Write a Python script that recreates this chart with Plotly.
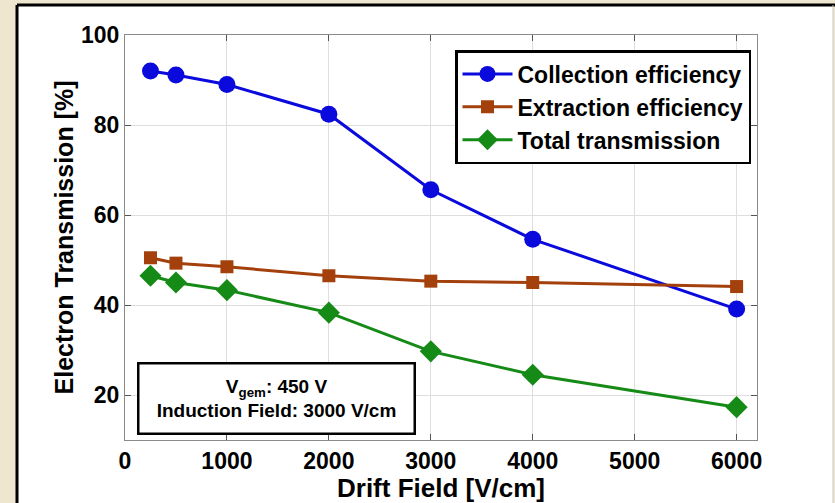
import plotly.graph_objects as go

drift_field = [250, 500, 1000, 2000, 3000, 4000, 6000]
collection = [92.0, 91.1, 89.0, 82.4, 65.6, 54.6, 39.1]
extraction = [50.5, 49.3, 48.5, 46.5, 45.3, 45.0, 44.1]
total = [46.5, 45.0, 43.3, 38.3, 29.7, 24.5, 17.3]

x_ticks = [0, 1000, 2000, 3000, 4000, 5000, 6000]
y_ticks = [20, 40, 60, 80, 100]

fig = go.Figure()
fig.add_trace(go.Scatter(x=drift_field, y=collection, mode="lines+markers",
                         name="Collection efficiency",
                         line=dict(color="#0a0adc", width=3),
                         marker=dict(symbol="circle", size=17, color="#0a0adc")))
fig.add_trace(go.Scatter(x=drift_field, y=extraction, mode="lines+markers",
                         name="Extraction efficiency",
                         line=dict(color="#a3400c", width=3),
                         marker=dict(symbol="square", size=13, color="#a3400c")))
fig.add_trace(go.Scatter(x=drift_field, y=total, mode="lines+markers",
                         name="Total transmission",
                         line=dict(color="#168a16", width=3),
                         marker=dict(symbol="diamond", size=17, color="#168a16")))

L, R, T, B = 125, 78, 35, 63
W, H = 835, 503
pw, ph = W - L - R, H - T - B

def px(xp):
    return (xp - L) / pw

def py(yp):
    return (H - B - yp) / ph

fig.add_shape(type="rect", xref="paper", yref="paper",
              x0=px(17), x1=px(833), y0=py(520), y1=py(5),
              fillcolor="white", line=dict(width=0), layer="below")
fig.add_shape(type="line", xref="paper", yref="paper",
              x0=px(17), x1=px(835), y0=py(5), y1=py(5),
              line=dict(color="black", width=3), layer="below")
fig.add_shape(type="line", xref="paper", yref="paper",
              x0=px(17), x1=px(17), y0=py(5), y1=py(520),
              line=dict(color="black", width=3), layer="below")
fig.add_shape(type="line", xref="paper", yref="paper",
              x0=px(833), x1=px(833), y0=py(5), y1=py(520),
              line=dict(color="#c8c8c8", width=1), layer="below")

fig.add_annotation(xref="paper", yref="paper", x=px(276), y=py(398),
                   xanchor="center", yanchor="middle",
                   text="V<sub>gem</sub>: 450 V<br>Induction Field: 3000 V/cm",
                   showarrow=False, align="center",
                   font=dict(family="Liberation Sans, Arial", size=19, color="black", weight="bold"),
                   bordercolor="black", borderwidth=2.5, borderpad=3, bgcolor="white",
                   width=268, height=62)

tick_font = dict(family="Liberation Sans, Arial", size=23, color="black", weight="bold")
axis_common = dict(showgrid=True, gridcolor="#dedede", gridwidth=1,
                   showline=True, linecolor="#8a8a8a", linewidth=1, mirror="ticks",
                   ticks="inside", ticklen=6, tickcolor="#555555",
                   zeroline=False, automargin=False, tickfont=tick_font)

fig.update_xaxes(range=[0, 6200], tickvals=x_ticks,
                 title=dict(text="Drift Field [V/cm]", standoff=0,
                            font=dict(family="Liberation Sans, Arial", size=26, color="black", weight="bold")),
                 **axis_common)
fig.update_yaxes(range=[10, 100], tickvals=y_ticks,
                 title=dict(text="Electron Transmission [%]", standoff=0,
                            font=dict(family="Liberation Sans, Arial", size=25, color="black", weight="bold")),
                 **axis_common)

fig.update_layout(
    width=W, height=H,
    margin=dict(l=L, r=R, t=T, b=B, autoexpand=False),
    paper_bgcolor="#efe6d0",
    plot_bgcolor="white",
    showlegend=True,
    legend=dict(x=px(455), y=py(50), xanchor="left", yanchor="top",
                bgcolor="white", bordercolor="black", borderwidth=2.5,
                font=dict(family="Liberation Sans, Arial", size=23, color="black", weight="bold"),
                tracegroupgap=0, itemwidth=50),
)

fig.write_html("out.html", config={"displayModeBar": False},
               post_script="document.body.style.margin='0';document.body.style.overflow='hidden';")
